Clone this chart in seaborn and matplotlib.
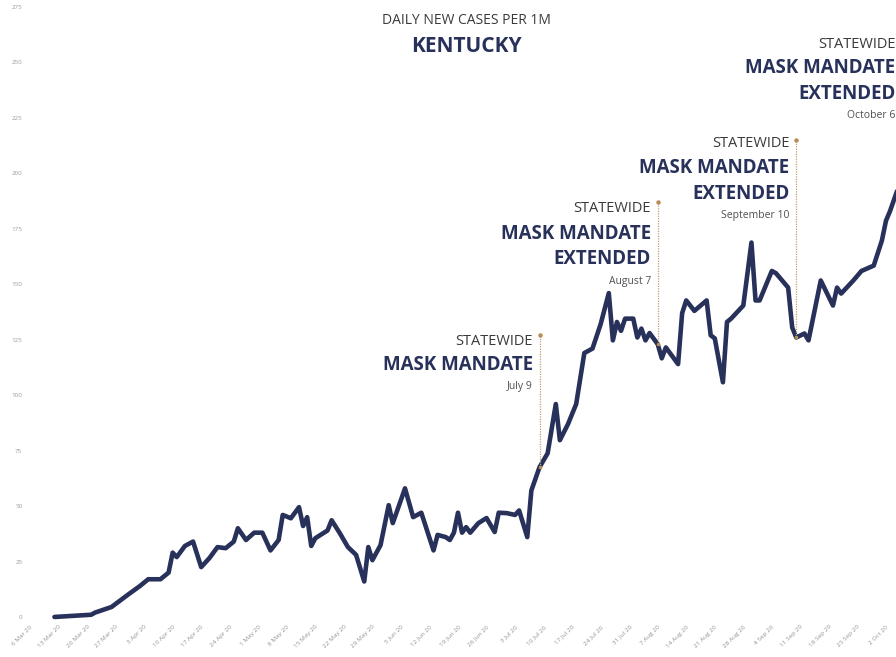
import matplotlib
matplotlib.use("Agg")
import matplotlib.pyplot as plt
import seaborn as sns
import pandas as pd

# ---------------- data ----------------
DATES = [
    "2020-03-12", "2020-03-21", "2020-03-22", "2020-03-26", "2020-03-30", "2020-04-02",
    "2020-04-04", "2020-04-07", "2020-04-09", "2020-04-10", "2020-04-11", "2020-04-13",
    "2020-04-15", "2020-04-17", "2020-04-19", "2020-04-21", "2020-04-23", "2020-04-25",
    "2020-04-26", "2020-04-28", "2020-04-30", "2020-05-02", "2020-05-04", "2020-05-06",
    "2020-05-07", "2020-05-09", "2020-05-11", "2020-05-12", "2020-05-13", "2020-05-14",
    "2020-05-15", "2020-05-18", "2020-05-19", "2020-05-21", "2020-05-23", "2020-05-25",
    "2020-05-27", "2020-05-28", "2020-05-29", "2020-05-31", "2020-06-02", "2020-06-03",
    "2020-06-05", "2020-06-06", "2020-06-08", "2020-06-10", "2020-06-13", "2020-06-14",
    "2020-06-16", "2020-06-17", "2020-06-18", "2020-06-19", "2020-06-20", "2020-06-21",
    "2020-06-22", "2020-06-24", "2020-06-26", "2020-06-28", "2020-06-29", "2020-07-01",
    "2020-07-03", "2020-07-04", "2020-07-06", "2020-07-07", "2020-07-09", "2020-07-11",
    "2020-07-13", "2020-07-14", "2020-07-16", "2020-07-18", "2020-07-20", "2020-07-22",
    "2020-07-24", "2020-07-26", "2020-07-27", "2020-07-28", "2020-07-29", "2020-07-30",
    "2020-08-01", "2020-08-02", "2020-08-03", "2020-08-04", "2020-08-05", "2020-08-07",
    "2020-08-08", "2020-08-09", "2020-08-12", "2020-08-13", "2020-08-14", "2020-08-16",
    "2020-08-19", "2020-08-20", "2020-08-21", "2020-08-23", "2020-08-24", "2020-08-25",
    "2020-08-28", "2020-08-30", "2020-08-31", "2020-09-01", "2020-09-04", "2020-09-05",
    "2020-09-08", "2020-09-09", "2020-09-10", "2020-09-12", "2020-09-13", "2020-09-14",
    "2020-09-16", "2020-09-19", "2020-09-20", "2020-09-21", "2020-09-24", "2020-09-26",
    "2020-09-29", "2020-10-01", "2020-10-02", "2020-10-03", "2020-10-05", "2020-10-06",
]
CASES = [
    0, 1, 2, 4.5, 10, 14,
    17, 17, 20, 29, 27, 32,
    34, 22.5, 26.5, 31.5, 31, 34,
    40, 34.7, 38, 38, 30, 34.7,
    46, 44.5, 49.5, 41, 45, 32,
    35.5, 39, 43.6, 37.8, 31.5, 28,
    16, 31.5, 25.6, 32.4, 50.4, 42.3,
    52.7, 58, 45, 47, 30, 37,
    36, 34.7, 38, 47, 38, 40.5,
    38, 42.3, 44.6, 38.3, 47, 46.8,
    46, 48, 36, 57, 67.5, 73.8,
    96, 79.7, 87, 96, 119, 121,
    132, 146, 124.7, 133, 129, 134.5,
    134.5, 126, 130, 124.7, 128, 123,
    116.6, 121.5, 114, 137, 142.7, 138,
    142.7, 127, 125.6, 105.8, 133, 134.5,
    140.4, 168.8, 142.7, 142.7, 156, 155,
    148.5, 130.5, 126, 127.8, 124.7, 133.7,
    151.7, 140.4, 148.5, 145.8, 151.7, 156,
    158.4, 169.7, 178.6, 183, 193.5, 200,
]
TICK_DATES = pd.date_range("2020-03-06", "2020-10-02", freq="7D")
TICK_LABELS = [
    "6 Mar 20", "13 Mar 20", "20 Mar 20", "27 Mar 20", "3 Apr 20", "10 Apr 20",
    "17 Apr 20", "24 Apr 20", "1 May 20", "8 May 20", "15 May 20", "22 May 20",
    "29 May 20", "5 Jun 20", "12 Jun 20", "19 Jun 20", "26 Jun 20", "3 Jul 20",
    "10 Jul 20", "17 Jul 20", "24 Jul 20", "31 Jul 20", "7 Aug 20", "14 Aug 20",
    "21 Aug 20", "28 Aug 20", "4 Sep 20", "11 Sep 20", "18 Sep 20", "25 Sep 20",
    "2 Oct 20",
]
Y_TICKS = [0, 25, 50, 75, 100, 125, 150, 175, 200, 225, 250, 275]

EVENT_DATES = ["2020-07-09", "2020-08-07", "2020-09-10", "2020-10-06"]
EVENT_HEAD = ["STATEWIDE", "STATEWIDE", "STATEWIDE", "STATEWIDE"]
EVENT_MAIN = [["MASK MANDATE"],
              ["MASK MANDATE", "EXTENDED"],
              ["MASK MANDATE", "EXTENDED"],
              ["MASK MANDATE", "EXTENDED"]]
EVENT_SUB = ["July 9", "August 7", "September 10", "October 6"]

TITLE = "DAILY NEW CASES PER 1M"
SUBTITLE = "KENTUCKY"

# ---------------- style ----------------
sns.set_style("white")
FONT = ["Open Sans", "DejaVu Sans"]
plt.rcParams["font.family"] = FONT

NAVY = "#27315a"
GOLD = "#c4a272"

W, H = 896, 657
fig = plt.figure(figsize=(W / 100, H / 100), dpi=100)
# axes: 6 Mar at x=30px, 4.076 px/day; y: 0 at 617px, 2.218 px/unit
x0 = pd.Timestamp("2020-03-06")
left_px = 30 - 0.5 * 4.076
right_px = 30 + 215 * 4.076
ax = fig.add_axes([left_px / W, (H - 621.4) / H, (right_px - left_px) / W, 614.4 / H])

df = pd.DataFrame({"date": pd.to_datetime(DATES), "cases": CASES})
sns.lineplot(data=df, x="date", y="cases", ax=ax, color=NAVY, linewidth=3.3,
             solid_joinstyle="round", solid_capstyle="round")

ax.set_xlim(x0 - pd.Timedelta(hours=12), x0 + pd.Timedelta(days=215))
ax.set_ylim(-2, 275)
sns.despine(ax=ax, left=True, bottom=True)
ax.grid(False)
ax.set_xlabel("")
ax.set_ylabel("")

ax.set_yticks(Y_TICKS)
ax.set_yticklabels([str(v) for v in Y_TICKS], fontsize=4.5, color="#9a9a9a")
ax.set_xticks(TICK_DATES)
ax.set_xticklabels(TICK_LABELS, rotation=45, ha="right", rotation_mode="anchor",
                   fontsize=4.6, color="#949494")
ax.tick_params(axis="both", length=0)
ax.tick_params(axis="y", pad=4)
ax.tick_params(axis="x", pad=2)

# ---------------- titles ----------------
fig.text(466 / W, 1 - 20 / H, TITLE, ha="center", va="center", fontsize=10, color="#3a3a3a")
fig.text(466 / W, 1 - 47 / H, SUBTITLE, ha="center", va="center", fontsize=15,
         fontweight="bold", color=NAVY)

# ---------------- annotations ----------------
# label layout (in data units): top of line, then text rows
LAYOUT = [
    dict(top=127, rows=[124.0, 113.6], sub=104.0),
    dict(top=187, rows=[184.0, 172.8, 161.2], sub=151.4),
    dict(top=215, rows=[213.4, 202.3, 190.9], sub=180.8),
    dict(top=261, rows=[258.0, 247.4, 236.0], sub=226.0),
]
OFF = -4.8
lookup = dict(zip(pd.to_datetime(DATES), CASES))
for d, head, main, sub, lay in zip(EVENT_DATES, EVENT_HEAD, EVENT_MAIN, EVENT_SUB, LAYOUT):
    dt = pd.Timestamp(d)
    bottom = lookup.get(dt, lay["top"])
    ax.plot([dt, dt], [bottom, lay["top"]], ls=(0, (1, 1)), color=GOLD, lw=0.9, clip_on=False)
    ax.plot([dt], [lay["top"]], marker="o", ms=2.2, color="#b88d52", clip_on=False)
    ax.plot([dt], [bottom], marker="o", ms=1.6, color="#b88d52", clip_on=False)
    ax.annotate(head, xy=(dt, lay["rows"][0]), xytext=(OFF, 0), textcoords="offset points",
                ha="right", va="center", fontsize=10.5, color="#3a3a3a", annotation_clip=False)
    for txt, yy in zip(main, lay["rows"][1:]):
        ax.annotate(txt, xy=(dt, yy), xytext=(OFF, 0), textcoords="offset points",
                    ha="right", va="center", fontsize=13.5, fontweight="bold", color=NAVY,
                    annotation_clip=False)
    ax.annotate(sub, xy=(dt, lay["sub"]), xytext=(OFF, 0), textcoords="offset points",
                ha="right", va="center", fontsize=7.5, color="#505050", annotation_clip=False)

fig.savefig("out.png", dpi=100)
